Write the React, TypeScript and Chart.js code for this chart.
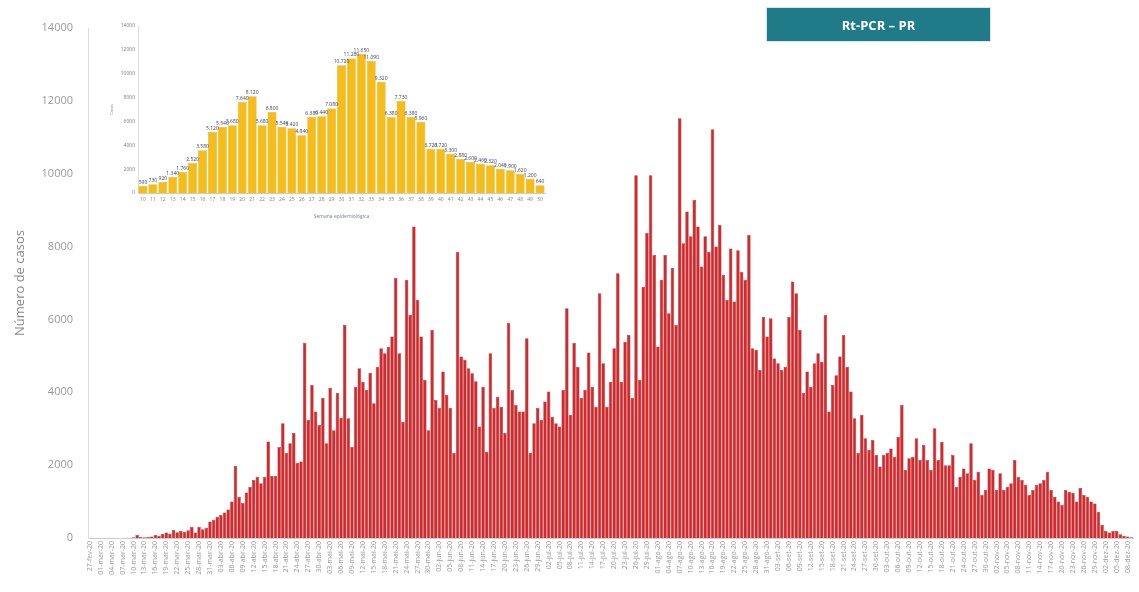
import React, { useEffect, useRef } from "react";
import { Chart, registerables } from "chart.js";

Chart.register(...registerables);

// ---- Main chart data (daily RT-PCR confirmed cases) ----
const startDate = [2020, 1, 27]; // year, monthIndex, day of first category
const dailyCasesMarApr = [0, 0, 0, 0, 1, 0, 2, 1, 3, 2, 5, 4];
const dailyCasesAprMay = [20, 80, 30, 20, 25, 40, 80, 60, 110, 150, 120, 220, 160, 190, 170, 210, 310, 150, 310, 240,
  280, 450, 500, 580, 630, 700, 780, 1000, 1980, 1130, 960, 1250, 1400, 1590, 1680, 1500, 1680, 2650, 1700, 1700];
const dailyCasesJunJul = [2500, 3150, 2330, 2600, 2880, 2060, 2100, 5360, 3240, 4200, 3470, 3100, 3840, 2600, 4120,
  2960, 3980, 3300, 5850, 3290, 2500, 4150, 4660, 4290, 4060, 4530, 3700, 4700, 5210, 5070, 5250, 5530, 7140, 5070, 3190,
  7080, 6120, 8550, 6530, 5530, 4340, 2960, 5710, 3790, 3570, 4570, 3930, 3570, 2330, 7860];
const dailyCasesJulAug = [4980, 4890, 4660, 4520, 4300, 3060, 4150, 2370, 5070, 3570, 3880, 3600, 2880, 5910, 4060, 3650,
  3470, 3470, 5480, 2330, 3150, 3570, 3240, 3750, 4020, 3330, 3150, 3060, 4060, 6310, 3380, 5350, 4700, 3840, 4060, 5090,
  4150, 3600, 6720, 4800, 3600, 4290, 5210, 7270, 4290, 5390, 5570, 3840, 9960, 4340, 6900, 8370];
const dailyCasesAugOct = [9960, 7770, 5260, 7080, 7770, 6170, 7410, 5850, 11520, 8090, 8960, 8280, 9280, 8550, 7450, 8280,
  7860, 11220, 8000, 8590, 7220, 6530, 7950, 6490, 7900, 7310, 7080, 8320, 5210, 5160, 4610, 6070, 5530, 6030, 4930, 4800,
  4610, 4700, 6070, 7040, 6720, 5710, 3980, 4570, 4150, 4800, 5070, 4840, 6120, 3470, 4200, 4470, 4980, 5570, 4700];
const dailyCasesOctNov = [4020, 3290, 2330, 3380, 2740, 2420, 2690, 2280, 1960, 2280, 2330, 2460, 2230, 2780, 3650, 1870,
  2190, 2230, 2740, 2140, 2550, 2140, 1870, 3010, 2140, 2640, 2000, 2000, 2280, 1410, 1680, 1910, 1780, 2600, 1590, 1820,
  1180, 1320];
const dailyCasesNovDec = [1910, 1870, 1320, 1780, 1320, 1410, 1500, 2140, 1680, 1590, 1460, 1180, 1320, 1460, 1500, 1590,
  1820, 1320, 1130, 1000, 910, 1320, 1270, 1240, 1000, 1370, 1180, 1130, 1000, 950, 720, 360, 190, 150, 190, 190, 100, 60,
  40, 20];

const dailyCases = [
  ...dailyCasesMarApr, ...dailyCasesAprMay, ...dailyCasesJunJul, ...dailyCasesJulAug,
  ...dailyCasesAugOct, ...dailyCasesOctNov, ...dailyCasesNovDec,
];

const mainYTicks = [0, 2000, 4000, 6000, 8000, 10000, 12000, 14000];
const mainYTitle = "Número de casos";

// ---- Inset data (cases per epidemiological week) ----
const weekLabels = ["10", "11", "12", "13", "14", "15", "16", "17", "18", "19", "20", "21", "22", "23", "24", "25", "26",
  "27", "28", "29", "30", "31", "32", "33", "34", "35", "36", "37", "38", "39", "40", "41", "42", "43", "44", "45", "46",
  "47", "48", "49", "50"];
const weeklyCases = [590, 730, 920, 1340, 1760, 2520, 3580, 5120, 5540, 5680, 7640, 8120, 5680, 6800, 5540, 5420, 4840,
  6380, 6440, 7080, 10720, 11280, 11650, 11090, 9320, 6380, 7730, 6380, 5960, 3720, 3720, 3300, 2880, 2600, 2460, 2320,
  2040, 1900, 1620, 1200, 640];
const insetYTicks = [0, 2000, 4000, 6000, 8000, 10000, 12000, 14000];
const insetYTitle = "Casos";
const insetXTitle = "Semana epidemiológica";
const badgeText = "Rt-PCR – PR";

const monthsPt = ["jan", "fev", "mar", "abr", "mai", "jun", "jul", "ago", "set", "out", "nov", "dez"];
const dayLabels = dailyCases.map((_, i) => {
  const d = new Date(startDate[0], startDate[1], startDate[2] + i);
  const dd = String(d.getDate()).padStart(2, "0");
  return `${dd}-${monthsPt[d.getMonth()]}-${String(d.getFullYear()).slice(2)}`;
});

const FONT = "'Open Sans', 'DejaVu Sans', sans-serif";

const barValueLabels = {
  id: "barValueLabels",
  afterDatasetsDraw(chart: any) {
    const ctx = chart.ctx;
    const meta = chart.getDatasetMeta(0);
    const data = chart.data.datasets[0].data as number[];
    ctx.save();
    ctx.font = `5px ${FONT}`;
    ctx.fillStyle = "#3a4170";
    ctx.textAlign = "center";
    ctx.textBaseline = "bottom";
    meta.data.forEach((bar: any, i: number) => {
      ctx.fillText(data[i].toLocaleString("pt-BR"), bar.x, bar.y - 1);
    });
    ctx.restore();
  },
};

export default function App() {
  const mainRef = useRef<HTMLCanvasElement>(null);
  const insetRef = useRef<HTMLCanvasElement>(null);

  useEffect(() => {
    const main = new Chart(mainRef.current!, {
      type: "bar",
      data: {
        labels: dayLabels,
        datasets: [
          {
            data: dailyCases,
            backgroundColor: "#D2292C",
            borderColor: "#AD2024",
            borderWidth: 0.5,
            categoryPercentage: 0.96,
            barPercentage: 1,
          },
        ],
      },
      options: {
        animation: false,
        responsive: false,
        maintainAspectRatio: false,
        layout: { padding: { top: 28, right: 2, left: 0, bottom: 0 } },
        plugins: { legend: { display: false }, tooltip: { enabled: false } },
        scales: {
          x: {
            grid: { display: false, drawTicks: false },
            border: { display: true, color: "#cccccc" },
            ticks: {
              font: { size: 7, family: FONT },
              color: "#9a9a9a",
              maxRotation: 90,
              minRotation: 90,
              autoSkip: true,
              autoSkipPadding: 0,
              padding: 3,
            },
            afterFit: (s: any) => {
              s.height = 54;
            },
          },
          y: {
            min: 0,
            max: 14000,
            afterBuildTicks: (s: any) => {
              s.ticks = mainYTicks.map((v) => ({ value: v }));
            },
            ticks: {
              font: { size: 11, family: FONT },
              color: "#9a9a9a",
              padding: 15,
              callback: (v: any) => String(v),
            },
            grid: { display: false, drawTicks: false },
            border: { display: true, color: "#dddddd" },
            title: {
              display: true,
              text: mainYTitle,
              font: { size: 13, family: FONT },
              color: "#888888",
              padding: { top: 12, bottom: 0 },
            },
            afterFit: (s: any) => {
              s.width = 88;
            },
          },
        },
      },
    });

    const inset = new Chart(insetRef.current!, {
      type: "bar",
      data: {
        labels: weekLabels,
        datasets: [
          {
            data: weeklyCases,
            backgroundColor: "#F4BD1C",
            borderColor: "#E3A20E",
            borderWidth: 0.5,
            categoryPercentage: 0.9,
            barPercentage: 1,
          },
        ],
      },
      options: {
        animation: false,
        responsive: false,
        maintainAspectRatio: false,
        layout: { padding: { top: 16, right: 15, left: 0, bottom: 0 } },
        plugins: { legend: { display: false }, tooltip: { enabled: false } },
        scales: {
          x: {
            grid: { display: false, drawTicks: false },
            border: { display: true, color: "#cccccc" },
            ticks: { font: { size: 5, family: FONT }, color: "#7a7f99", maxRotation: 0, autoSkip: false, padding: 4 },
            title: {
              display: true,
              text: insetXTitle,
              font: { size: 5, family: FONT },
              color: "#7a7f99",
              padding: { top: 2, bottom: 0 },
            },
            afterFit: (s: any) => {
              s.height = 27;
            },
          },
          y: {
            min: 0,
            max: 14000,
            afterBuildTicks: (s: any) => {
              s.ticks = insetYTicks.map((v) => ({ value: v }));
            },
            ticks: {
              font: { size: 5, family: FONT },
              color: "#7a7a7a",
              padding: 3,
              callback: (v: any) => String(v),
            },
            grid: { display: false, drawTicks: false },
            border: { display: true, color: "#dddddd" },
            title: {
              display: true,
              text: insetYTitle,
              font: { size: 4, family: FONT },
              color: "#888888",
              padding: { top: 9, bottom: 0 },
            },
            afterFit: (s: any) => {
              s.width = 38;
            },
          },
        },
      },
      plugins: [barValueLabels],
    });

    return () => {
      main.destroy();
      inset.destroy();
    };
  }, []);

  return (
    <div style={{ position: "fixed", left: 0, top: 0, width: 1139, height: 592, background: "#ffffff" }}>
      <canvas ref={mainRef} width={1139} height={592} style={{ position: "absolute", left: 0, top: 0 }} />
      <canvas ref={insetRef} width={460} height={210} style={{ position: "absolute", left: 100, top: 10 }} />
      <div
        style={{
          position: "absolute",
          left: 767,
          top: 8,
          width: 223,
          height: 33,
          background: "#1E7B87",
          color: "#ffffff",
          fontFamily: FONT,
          fontWeight: 700,
          fontSize: 13,
          display: "flex",
          alignItems: "center",
          justifyContent: "center",
          boxShadow: "0 0 0 1px #d8e6e8",
        }}
      >
        {badgeText}
      </div>
    </div>
  );
}
